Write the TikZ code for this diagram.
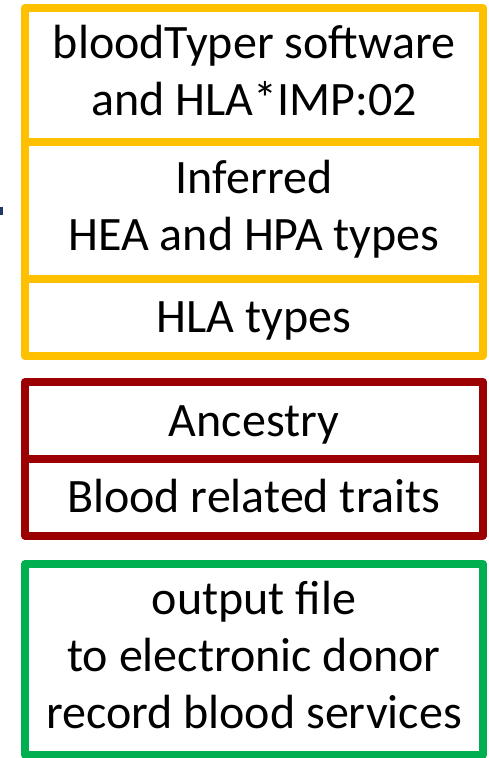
\documentclass[tikz,border=0pt]{standalone}
\usepackage{fontspec}
\setmainfont{Carlito}
\usepackage{tikz}

\definecolor{boxgold}{HTML}{FFC000}
\definecolor{boxred}{HTML}{9C0000}
\definecolor{boxgreen}{HTML}{00B050}
\definecolor{markblue}{HTML}{1F3864}

\newcommand{\cellstrut}{\rule[-9pt]{0pt}{49pt}}

\tikzset{
  cell/.style={draw, line width=8pt, line join=round, outer sep=0pt,
    inner sep=0pt, minimum width=458pt, align=center,
    font=\fontsize{48}{57}\selectfont,
    execute at begin node=\cellstrut, execute at end node=\cellstrut},
}

\begin{document}
\begin{tikzpicture}[x=1pt, y=-1pt]
              \useasboundingbox (0,0) rectangle (488,758);

              \fill[markblue] (0,207) rectangle (3,215);

              \node[cell, boxgold, text=black, minimum height=134pt]   (soft)   at (254, 75)     {bloodTyper software\\and HLA*IMP:02};
              \node[cell, boxgold, text=black, minimum height=136.5pt] (hea)    at (254, 210.25) {Inferred\\HEA and HPA types};
              \node[cell, boxgold, text=black, minimum height=77pt]    (hla)    at (254, 317)    {HLA types};

              \node[cell, boxred, text=black, minimum height=77pt]     (anc)    at (254, 420.5)  {Ancestry};
              \node[cell, boxred, text=black, minimum height=76.5pt]   (traits) at (254, 497.25) {Blood related traits};

              \node[cell, boxgreen, text=black, minimum height=190.5pt] (out)   at (254, 659.25) {output file\\to electronic donor\\record blood services};
            \end{tikzpicture}
\end{document}
